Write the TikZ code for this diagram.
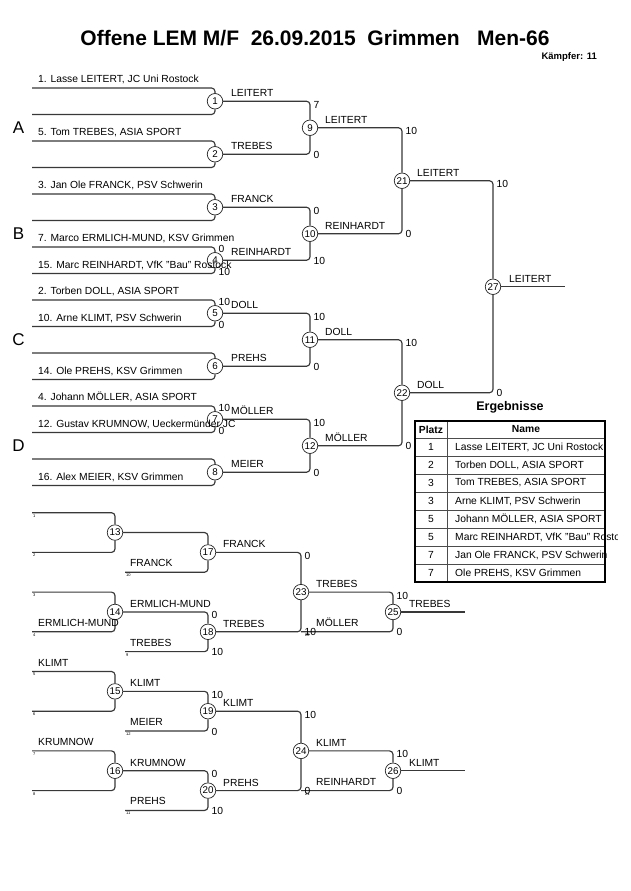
\documentclass[tikz,border=0pt]{standalone}
\usepackage{fontspec}
\setmainfont{Liberation Sans}
\newcommand\plab[3]{\node[lb] (#1) at (38,#2-5.5) {#3};}
\newcommand\flab[4]{\node[lb] (#1) at (#2,#3-5.5) {#4};}
\newcommand\wlab[4]{\node[lb] (#1) at (#2,#3-4.5) {#4};}
\newcommand\tsc[3]{\node[lb] at (#1+3.5,#2+7) {#3};}
\newcommand\bsc[3]{\node[lb] at (#1+3.5,#2+4) {#3};}
\newcommand\tsa[3]{\node[lb] at (#1+3.5,#2+5) {#3};}
\newcommand\bsa[3]{\node[lb] at (#1+3.5,#2+2) {#3};}
\newcommand\seedno[3]{\node[sd] at (#1+1,#2+1.5) {#3};}
\begin{document}
\begin{tikzpicture}[x=1pt,y=-1pt,
  br/.style={draw=black!78,line width=1.15pt,rounded corners=3.5pt},
  mc/.style={circle,draw=black!85,line width=0.7pt,fill=white,minimum size=15.5pt,inner sep=0pt,font=\fontsize{9.8}{10}\selectfont},
  lb/.style={font=\fontsize{10.3}{12}\selectfont,inner sep=0pt,anchor=base west},
  sd/.style={font=\fontsize{4}{4}\selectfont,inner sep=0pt,anchor=north west},
  grp/.style={font=\fontsize{17}{18}\selectfont,inner sep=0pt},
  tl/.style={draw=black!70,line width=0.7pt},
  tc/.style={font=\fontsize{10.3}{12}\selectfont,inner sep=0pt},
]
\fill[white] (0,0) rectangle (630,891);
\useasboundingbox (0,0) rectangle (630,891);

% title
\node[font=\fontsize{21}{24}\selectfont\bfseries,inner sep=0pt] (title) at (315,38) {Offene LEM M/F\ \ 26.09.2015\ \ Grimmen\ \ \ Men-66};
\node[font=\fontsize{9.5}{11}\selectfont\bfseries,inner sep=0pt,anchor=east] (kaempfer) at (597,57) {Kämpfer: 11};

% ---------- main bracket circles
\node[mc] (m1) at (215,101.25) {1};
\node[mc] (m2) at (215,154.25) {2};
\node[mc] (m3) at (215,207.25) {3};
\node[mc] (m4) at (215,260.25) {4};
\node[mc] (m5) at (215,313.25) {5};
\node[mc] (m6) at (215,366.25) {6};
\node[mc] (m7) at (215,419.25) {7};
\node[mc] (m8) at (215,472.25) {8};
\node[mc] (m9) at (310,127.75) {9};
\node[mc] (m10) at (310,233.75) {10};
\node[mc] (m11) at (310,339.75) {11};
\node[mc] (m12) at (310,445.75) {12};
\node[mc] (m21) at (402,180.75) {21};
\node[mc] (m22) at (402,392.75) {22};
\node[mc] (m27) at (493,286.75) {27};

% start coordinates
\coordinate (a0) at (32,88);
\coordinate (a1) at (32,114.5);
\coordinate (a2) at (32,141);
\coordinate (a3) at (32,167.5);
\coordinate (a4) at (32,194);
\coordinate (a5) at (32,220.5);
\coordinate (a6) at (32,247);
\coordinate (a7) at (32,273.5);
\coordinate (a8) at (32,300);
\coordinate (a9) at (32,326.5);
\coordinate (a10) at (32,353);
\coordinate (a11) at (32,379.5);
\coordinate (a12) at (32,406);
\coordinate (a13) at (32,432.5);
\coordinate (a14) at (32,459);
\coordinate (a15) at (32,485.5);
\coordinate (w27) at (565,286.75);

\draw[br] (a0) -| (m1) |- (a1);
\draw[br] (a2) -| (m2) |- (a3);
\draw[br] (a4) -| (m3) |- (a5);
\draw[br] (a6) -| (m4) |- (a7);
\draw[br] (a8) -| (m5) |- (a9);
\draw[br] (a10) -| (m6) |- (a11);
\draw[br] (a12) -| (m7) |- (a13);
\draw[br] (a14) -| (m8) |- (a15);
\draw[br] (m1) -| (m9) |- (m2);
\draw[br] (m3) -| (m10) |- (m4);
\draw[br] (m5) -| (m11) |- (m6);
\draw[br] (m7) -| (m12) |- (m8);
\draw[br] (m9) -| (m21) |- (m10);
\draw[br] (m11) -| (m22) |- (m12);
\draw[br] (m21) -| (m27) |- (m22);
\draw[br] (m27) -- (w27);

% group letters
\node[grp] (gA) at (18.5,127.75) {A};
\node[grp] (gB) at (18.5,233.75) {B};
\node[grp] (gC) at (18.5,339.75) {C};
\node[grp] (gD) at (18.5,445.75) {D};

% player labels
\plab{p1}{88}{1. Lasse LEITERT, JC Uni Rostock}
\plab{p2}{141}{5. Tom TREBES, ASIA SPORT}
\plab{p3}{194}{3. Jan Ole FRANCK, PSV Schwerin}
\plab{p4}{247}{7. Marco ERMLICH-MUND, KSV Grimmen}
\plab{p5}{273.5}{15. Marc REINHARDT, VfK "Bau" Rostock}
\plab{p6}{300}{2. Torben DOLL, ASIA SPORT}
\plab{p7}{326.5}{10. Arne KLIMT, PSV Schwerin}
\plab{p8}{379.5}{14. Ole PREHS, KSV Grimmen}
\plab{p9}{406}{4. Johann MÖLLER, ASIA SPORT}
\plab{p10}{432.5}{12. Gustav KRUMNOW, Ueckermünder JC}
\plab{p11}{485.5}{16. Alex MEIER, KSV Grimmen}

% winner labels
\wlab{w1}{231}{101.25}{LEITERT}
\wlab{w2}{231}{154.25}{TREBES}
\wlab{w3}{231}{207.25}{FRANCK}
\wlab{w4}{231}{260.25}{REINHARDT}
\wlab{w5}{231}{313.25}{DOLL}
\wlab{w6}{231}{366.25}{PREHS}
\wlab{w7}{231}{419.25}{MÖLLER}
\wlab{w8}{231}{472.25}{MEIER}
\wlab{w9}{325}{127.75}{LEITERT}
\wlab{w10}{325}{233.75}{REINHARDT}
\wlab{w11}{325}{339.75}{DOLL}
\wlab{w12}{325}{445.75}{MÖLLER}
\wlab{w21}{417}{180.75}{LEITERT}
\wlab{w22}{417}{392.75}{DOLL}
\wlab{w27}{509}{286.75}{LEITERT}

% scores round 1
\tsa{215}{247}{0}
\bsa{215}{273.5}{10}
\tsa{215}{300}{10}
\bsa{215}{326.5}{0}
\tsa{215}{406}{10}
\bsa{215}{432.5}{0}
% scores round 2
\tsc{310}{101.25}{7}
\bsc{310}{154.25}{0}
\tsc{310}{207.25}{0}
\bsc{310}{260.25}{10}
\tsc{310}{313.25}{10}
\bsc{310}{366.25}{0}
\tsc{310}{419.25}{10}
\bsc{310}{472.25}{0}
% round 3
\tsc{402}{127.75}{10}
\bsc{402}{233.75}{0}
\tsc{402}{339.75}{10}
\bsc{402}{445.75}{0}
% final
\tsc{493}{180.75}{10}
\bsc{493}{392.75}{0}

% ---------- repechage
\node[mc] (m13) at (115,532.55) {13};
\node[mc] (m14) at (115,611.95) {14};
\node[mc] (m15) at (115,691.35) {15};
\node[mc] (m16) at (115,770.75) {16};
\node[mc] (m17) at (208,552.4) {17};
\node[mc] (m18) at (208,631.8) {18};
\node[mc] (m19) at (208,711.2) {19};
\node[mc] (m20) at (208,790.6) {20};
\node[mc] (m23) at (301,592.1) {23};
\node[mc] (m24) at (301,750.9) {24};
\node[mc] (m25) at (393,611.95) {25};
\node[mc] (m26) at (393,770.75) {26};

\coordinate (r0) at (32,512.7);
\coordinate (r2) at (32,552.4);
\coordinate (r4) at (32,592.1);
\coordinate (r6) at (32,631.8);
\coordinate (r8) at (32,671.5);
\coordinate (r10) at (32,711.2);
\coordinate (r12) at (32,750.9);
\coordinate (r14) at (32,790.6);
\coordinate (f17) at (125,572.25);
\coordinate (f18) at (125,651.65);
\coordinate (f19) at (125,731.05);
\coordinate (f20) at (125,810.45);
\coordinate (f25) at (301,631.8);
\coordinate (f26) at (301,790.6);
\coordinate (w25) at (465,611.95);
\coordinate (w26) at (465,770.75);

\draw[br] (r0) -| (m13) |- (r2);
\draw[br] (r4) -| (m14) |- (r6);
\draw[br] (r8) -| (m15) |- (r10);
\draw[br] (r12) -| (m16) |- (r14);
\draw[br] (m13) -| (m17) |- (f17);
\draw[br] (m14) -| (m18) |- (f18);
\draw[br] (m15) -| (m19) |- (f19);
\draw[br] (m16) -| (m20) |- (f20);
\draw[br] (m17) -| (m23) |- (m18);
\draw[br] (m19) -| (m24) |- (m20);
\draw[br] (m23) -| (m25) |- (f25);
\draw[br] (m24) -| (m26) |- (f26);
\draw[br] (m25) -- (w25);
\draw[br] (m26) -- (w26);

% seed numbers
\seedno{32}{512.7}{1}
\seedno{32}{552.4}{2}
\seedno{32}{592.1}{3}
\seedno{32}{631.8}{4}
\seedno{32}{671.5}{5}
\seedno{32}{711.2}{6}
\seedno{32}{750.9}{7}
\seedno{32}{790.6}{8}
\seedno{125}{572.25}{10}
\seedno{125}{651.65}{9}
\seedno{125}{731.05}{12}
\seedno{125}{810.45}{11}
\seedno{304}{631.8}{22}
\seedno{304}{790.6}{21}

% repechage labels
\flab{q1}{38}{631.8}{ERMLICH-MUND}
\flab{q2}{38}{671.5}{KLIMT}
\flab{q3}{38}{750.9}{KRUMNOW}
\flab{q4}{130}{572.25}{FRANCK}
\flab{q5}{130}{651.65}{TREBES}
\flab{q6}{130}{731.05}{MEIER}
\flab{q7}{130}{810.45}{PREHS}
\flab{q8}{316}{631.8}{MÖLLER}
\flab{q9}{316}{790.6}{REINHARDT}
\wlab{v14}{130}{611.95}{ERMLICH-MUND}
\wlab{v15}{130}{691.35}{KLIMT}
\wlab{v16}{130}{770.75}{KRUMNOW}
\wlab{v17}{223}{552.4}{FRANCK}
\wlab{v18}{223}{631.8}{TREBES}
\wlab{v19}{223}{711.2}{KLIMT}
\wlab{v20}{223}{790.6}{PREHS}
\wlab{v23}{316}{592.1}{TREBES}
\wlab{v24}{316}{750.9}{KLIMT}
\wlab{v25}{409}{611.95}{TREBES}
\wlab{v26}{409}{770.75}{KLIMT}

% repechage scores
\tsc{208}{611.95}{0}
\bsc{208}{651.65}{10}
\tsc{208}{691.35}{10}
\bsc{208}{731.05}{0}
\tsc{208}{770.75}{0}
\bsc{208}{810.45}{10}
\tsc{301}{552.4}{0}
\bsc{301}{631.8}{10}
\tsc{301}{711.2}{10}
\bsc{301}{790.6}{0}
\tsc{393}{592.1}{10}
\bsc{393}{631.8}{0}
\tsc{393}{750.9}{10}
\bsc{393}{790.6}{0}

% ---------- results table
\node[font=\fontsize{12.5}{14}\selectfont\bfseries,inner sep=0pt] (erg) at (510,407) {Ergebnisse};
\begin{scope}
\clip (400,415) rectangle (617,590);
\node[tc,font=\fontsize{10.3}{12}\selectfont\bfseries] (hp) at (431,429.5) {Platz};
\node[tc,font=\fontsize{10.3}{12}\selectfont\bfseries] (hn) at (526,429.5) {Name};
\foreach \i/\pl/\nm in {0/1/{Lasse LEITERT, JC Uni Rostock},1/2/{Torben DOLL, ASIA SPORT},2/3/{Tom TREBES, ASIA SPORT},3/3/{Arne KLIMT, PSV Schwerin},4/5/{Johann MÖLLER, ASIA SPORT},5/5/{Marc REINHARDT, VfK "Bau" Rostock},6/7/{Jan Ole FRANCK, PSV Schwerin},7/7/{Ole PREHS, KSV Grimmen}}{
  \node[tc] (pl\i) at (431,447+18*\i) {\pl};
  \node[tc,anchor=west] (nm\i) at (455,447+18*\i) {\nm};
}
\end{scope}
\foreach \yy in {438,456,474,492,510,528,546,564}{\draw[tl] (415,\yy) -- (605,\yy);}
\draw[tl] (447,421) -- (447,582);
\draw[black,line width=1.6pt] (415,421) rectangle (605,582);
\end{tikzpicture}
\end{document}
